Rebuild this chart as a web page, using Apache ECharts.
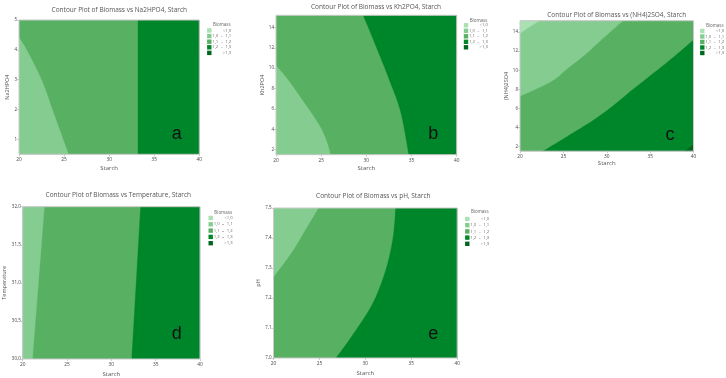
<!DOCTYPE html>
<html><head><meta charset="utf-8">
<script src="https://cdn.jsdelivr.net/npm/echarts@6/dist/echarts.min.js"></script>
<style>html,body{margin:0;padding:0;background:#fff}#c{width:726px;height:378px}</style>
</head><body><div id="c"></div>
<script>
// ---------- data ----------
const titles = ['Contour Plot of Biomass vs Na2HPO4, Starch','Contour Plot of Biomass vs Kh2PO4, Starch','Contour Plot of Biomass vs (NH4)2SO4, Starch','Contour Plot of Biomass vs Temperature, Starch','Contour Plot of Biomass vs pH, Starch'];
const yNames = ['Na2HPO4','Kh2PO4','(NH4)2SO4','Temperature','pH'];
const xName = 'Starch';
const panelLetters = ['a','b','c','d','e'];
const xRange = [20, 40];
const xTicks = [20, 25, 30, 35, 40];
const yRanges = [[0.5,5],[1.5,15.2],[1.5,15.2],[30,32],[7.0,7.5]];
const yTicks = [[1,2,3,4,5],[2,4,6,8,10,12,14],[2,4,6,8,10,12,14],[30,30.5,31,31.5,32],[7.0,7.1,7.2,7.3,7.4,7.5]];
const yDecimals = [0,0,0,1,1];
const legendTitle = 'Biomass';
const legendLow = ['', '1,0', '1,1', '1,2', ''];
const legendSep = ['<', '–', '–', '–', '>'];
const legendHigh = ['1,0', '1,1', '1,2', '1,3', '1,3'];
const levelColors = ['#a9e1b3', '#85cc90', '#58b062', '#00862a', '#00661d'];
const backgroundLevel = 2;

// contour boundaries [starch, y]
const aEdgeLight = [[20,4.42],[20.85,4],[22.5,3],[23.7,2],[24.9,1],[25.5,0.5]];
const aEdgeDark  = [[33.2,5],[33.2,0.5]];
const bEdgeLight = [[20,10.27],[21.3,8.9],[22.55,7.33],[24.57,4.72],[25.5,3.08],[26.05,1.5]];
const bEdgeDark  = [[29.66,15.2],[31.03,12.24],[32.5,8.96],[33.8,5.7],[34.7,1.5]];
const cEdgeVLight = [[20,13.86],[21.1,14.55],[22.27,15.2]];
const cEdgeLight = [[20,7.26],[23.6,8.82],[25.5,10.2],[27.45,11.6],[29.76,13.5],[31.87,15.2]];
const cEdgeDark  = [[22.65,1.5],[25.5,3.08],[29.4,5.34],[33.2,8.12],[37.06,10.9],[40,13.17]];
const cEdgeVDark = [[38.98,1.5],[40,2.2]];
const dEdgeLight = [[21.1,30],[22.45,32]];
const dEdgeDark  = [[32.3,30],[33.3,32]];
const eEdgeLight = [[20,7.27],[22.0,7.353],[23.44,7.426],[24.9,7.5]];
const eEdgeDark  = [[26.8,7.0],[28.35,7.065],[30.7,7.176],[32.16,7.287],[33.0,7.398],[33.3,7.5]];

const regions = [
  [{lvl:1, edge:aEdgeLight, corners:['BL']}, {lvl:3, edge:aEdgeDark, corners:['BR','TR']}],
  [{lvl:1, edge:bEdgeLight, corners:['BL']}, {lvl:3, edge:bEdgeDark, corners:['BR','TR']}],
  [{lvl:1, edge:cEdgeLight, corners:['TL']}, {lvl:0, edge:cEdgeVLight, corners:['TL']},
   {lvl:3, edge:cEdgeDark, corners:['BR']}, {lvl:4, edge:cEdgeVDark, corners:['BR']}],
  [{lvl:1, edge:dEdgeLight, corners:['TL','BL']}, {lvl:3, edge:dEdgeDark, corners:['TR','BR']}],
  [{lvl:1, edge:eEdgeLight, corners:['TL']}, {lvl:3, edge:eEdgeDark, corners:['TR','BR']}]
];

// ---------- layout ----------
const grids = [
  {left:19, top:20, width:180.3, height:134.3},
  {left:276, top:15.3, width:180.7, height:139.4},
  {left:520, top:20.7, width:173.5, height:130.5},
  {left:22.7, top:206.7, width:177.3, height:152.3},
  {left:273.5, top:208, width:183.7, height:150}
];
const titlePos = [[119.3,6.3],[376,3.3],[616.7,11.6],[118.3,191.6],[373.3,192.3]];
const yNameGap = [5, 9, 6, 12, 1];
const xNameGap = [10.5, 10.5, 9.5, 12, 12];
const letterPos = [[176.7,134.3],[433.3,134.3],[670,135],[176.7,334.3],[433.3,334.3]];
const legendPos = [
  {x:209.3, y:30.5, dy:5.6, ty:25},
  {x:466, y:25.3, dy:5.5, ty:20.3},
  {x:702.3, y:31, dy:5.5, ty:25.7},
  {x:210.7, y:218, dy:6.3, ty:212.5},
  {x:467.3, y:219, dy:6.2, ty:211.5}
];

function cornerPt(i, c) {
  const yr = yRanges[i];
  return [c[1] === 'L' ? xRange[0] : xRange[1], c[0] === 'B' ? yr[0] : yr[1]];
}
// smooth (Catmull-Rom) rendering of an edge already mapped to pixels
function smoothPx(px) {
  if (px.length < 3) return px;
  const out = [];
  for (let i = 0; i < px.length - 1; i++) {
    const p0 = px[i - 1] || px[i], p1 = px[i], p2 = px[i + 1], p3 = px[i + 2] || px[i + 1];
    const steps = 12;
    for (let s = 0; s < steps; s++) {
      const t = s / steps, t2 = t * t, t3 = t2 * t;
      const f = k => 0.5 * ((2 * p1[k]) + (-p0[k] + p2[k]) * t + (2 * p0[k] - 5 * p1[k] + 4 * p2[k] - p3[k]) * t2 + (-p0[k] + 3 * p1[k] - 3 * p2[k] + p3[k]) * t3);
      out.push([f(0), f(1)]);
    }
  }
  out.push(px[px.length - 1]);
  return out;
}

const font = 'Open Sans';
const option = {
  animation: false,
  title: titles.map((t, i) => ({
    text: t, left: titlePos[i][0], top: titlePos[i][1], textAlign: 'center', padding: 0,
    textStyle: {fontSize: 6.5, fontWeight: 'normal', color: '#555', fontFamily: font}
  })),
  grid: grids.map(g => Object.assign({show: true, backgroundColor: levelColors[backgroundLevel], borderWidth: 0}, g)),
  xAxis: grids.map((g, i) => ({
    type: 'value', gridIndex: i, min: xRange[0], max: xRange[1], interval: 5,
    name: xName, nameLocation: 'middle', nameGap: xNameGap[i],
    nameTextStyle: {fontSize: 6, color: '#555', fontFamily: font},
    axisLine: {show: false},
    axisTick: {show: true, length: 2, lineStyle: {color: '#aaa', width: 0.6}},
    axisLabel: {fontSize: 4.8, color: '#444', margin: 3, fontFamily: font},
    splitLine: {show: false}
  })),
  yAxis: grids.map((g, i) => ({
    type: 'value', gridIndex: i, min: yRanges[i][0], max: yRanges[i][1],
    name: yNames[i], nameLocation: 'middle', nameGap: yNameGap[i], nameRotate: 90,
    nameTextStyle: {fontSize: 5.5, color: '#555', fontFamily: font},
    axisLine: {show: false},
    axisTick: {show: true, length: 2, customValues: yTicks[i], lineStyle: {color: '#aaa', width: 0.6}},
    axisLabel: {fontSize: 4.5, color: '#444', margin: 2, fontFamily: font, customValues: yTicks[i],
      formatter: v => v.toFixed(yDecimals[i]).replace('.', ',')},
    splitLine: {show: false}
  })),
  series: [],
  graphic: []
};

regions.forEach((regs, i) => {
  regs.forEach(r => {
    option.series.push({
      type: 'custom', xAxisIndex: i, yAxisIndex: i, silent: true, clip: true,
      data: [r.edge[0]],
      renderItem: (params, api) => {
        const edgePx = smoothPx(r.edge.map(p => api.coord(p)));
        const pts = edgePx.concat(r.corners.map(c => api.coord(cornerPt(i, c))));
        return {
          type: 'polygon',
          shape: {points: pts},
          style: {fill: levelColors[r.lvl], stroke: levelColors[r.lvl], lineWidth: 0.3}
        };
      }
    });
  });
  // plot frame
  option.series.push({
    type: 'custom', xAxisIndex: i, yAxisIndex: i, silent: true, z: 10,
    data: [[xRange[0], yRanges[i][0]]],
    renderItem: (params, api) => {
      const p0 = api.coord([xRange[0], yRanges[i][1]]);
      const p1 = api.coord([xRange[1], yRanges[i][0]]);
      return {type: 'rect', shape: {x: p0[0], y: p0[1], width: p1[0]-p0[0], height: p1[1]-p0[1]},
        style: {fill: 'none', stroke: '#c9c9c9', lineWidth: 1}};
    }
  });
});

panelLetters.forEach((L, i) => {
  option.graphic.push({type: 'text', x: letterPos[i][0], y: letterPos[i][1], z: 100,
    style: {text: L, fontSize: 18, fill: '#111', font: '18px ' + font, align: 'center', verticalAlign: 'middle'}});
  const lp = legendPos[i];
  option.graphic.push({type: 'text', x: lp.x + 12.5, y: lp.ty, z: 100,
    style: {text: legendTitle, font: '4.5px ' + font, fill: '#666', align: 'center', verticalAlign: 'middle'}});
  for (let k = 0; k < 5; k++) {
    const y = lp.y + k * lp.dy;
    option.graphic.push({type: 'rect', x: lp.x - 2.2, y: y - 2.2, z: 100,
      shape: {width: 4.4, height: 4.4}, style: {fill: levelColors[k]}});
    option.graphic.push({type: 'text', x: lp.x + 6, y: y, z: 100,
      style: {text: legendLow[k], font: '4.2px ' + font, fill: '#666', align: 'center', verticalAlign: 'middle'}});
    option.graphic.push({type: 'text', x: lp.x + (k === 0 || k === 4 ? 14.7 : 12.4), y: y, z: 100,
      style: {text: legendSep[k], font: '4.2px ' + font, fill: '#666', align: 'center', verticalAlign: 'middle'}});
    option.graphic.push({type: 'text', x: lp.x + 19, y: y, z: 100,
      style: {text: legendHigh[k], font: '4.2px ' + font, fill: '#666', align: 'center', verticalAlign: 'middle'}});
  }
});

const chart = echarts.init(document.getElementById('c'), null, {renderer: 'canvas'});
chart.setOption(option);
</script>
</body></html>
